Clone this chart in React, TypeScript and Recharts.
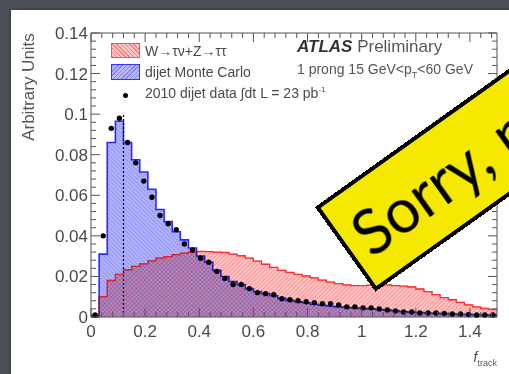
import React from 'react';
import {
  ComposedChart,
  Area,
  Line,
  Scatter,
  XAxis,
  YAxis,
  ReferenceLine
} from 'recharts';

// 50 bins of width 0.03 over f_track in [0, 1.5]
const BIN_WIDTH = 0.03;
const X_MAX = 1.5;
const Y_MAX = 0.14;
const CUT_X = 0.12;
const CUT_TOP = 0.1;

const tauSignal = [
  0, 0.01, 0.018, 0.021, 0.0233, 0.025, 0.0262, 0.0277, 0.029, 0.0298,
  0.0307, 0.0315, 0.032, 0.0323, 0.0322, 0.032, 0.0318, 0.031, 0.0302, 0.029,
  0.0275, 0.026, 0.0245, 0.023, 0.022, 0.021, 0.0202, 0.0193, 0.0182, 0.0172,
  0.0165, 0.0158, 0.0155, 0.0155, 0.0157, 0.0158, 0.0158, 0.0155, 0.0152, 0.0148,
  0.0138, 0.0125, 0.011, 0.0096, 0.0085, 0.0072, 0.006, 0.005, 0.0042, 0.0037
];

const dijetMC = [
  0.0008, 0.031, 0.086, 0.0965, 0.086, 0.0775, 0.0715, 0.063, 0.053, 0.047,
  0.042, 0.038, 0.034, 0.03, 0.027, 0.023, 0.02, 0.0175, 0.016, 0.014,
  0.0125, 0.0115, 0.0105, 0.0092, 0.0082, 0.0075, 0.007, 0.0063, 0.0058, 0.0053,
  0.005, 0.0047, 0.0044, 0.0042, 0.004, 0.0037, 0.0034, 0.003, 0.0026, 0.0024,
  0.0022, 0.002, 0.0018, 0.0016, 0.0014, 0.0013, 0.0012, 0.0011, 0.001, 0.0009
];

const dijetData = [
  0.001, 0.04, 0.093, 0.098, 0.086, 0.076, 0.067, 0.059, 0.05, 0.046,
  0.043, 0.036, 0.033, 0.029, 0.027, 0.0225, 0.019, 0.016, 0.016, 0.014,
  0.012, 0.0115, 0.011, 0.009, 0.0085, 0.008, 0.0075, 0.007, 0.0065, 0.0065,
  0.006, 0.005, 0.005, 0.0045, 0.0045, 0.004, 0.0035, 0.003, 0.0025, 0.0025,
  0.002, 0.002, 0.002, 0.0018, 0.0015, 0.0015, 0.0012, 0.001, 0.001, 0.001
];

const xTicks = [0, 0.2, 0.4, 0.6, 0.8, 1, 1.2, 1.4];
const yTicks = [0, 0.02, 0.04, 0.06, 0.08, 0.1, 0.12, 0.14];
// minor divisions (majors included)
const xAllTicks = Array.from({ length: 38 }, (_, i) => +(i * 0.04).toFixed(2));
const yAllTicks = Array.from({ length: 36 }, (_, i) => +(i * 0.004).toFixed(3));

// step rows: one per bin low edge, plus the closing edge
const histRows = tauSignal.map((w, i) => ({
  x: +(i * BIN_WIDTH).toFixed(2),
  tau: w,
  dijet: dijetMC[i]
}));
histRows.push({ x: X_MAX, tau: tauSignal[tauSignal.length - 1], dijet: dijetMC[dijetMC.length - 1] });

const dataPoints = dijetData.map((v, i) => ({
  x: +((i + 0.5) * BIN_WIDTH).toFixed(3),
  y: v
}));

const FRAME = '#555';
const LABEL = '#4a4a4a';
const FONT = '"Liberation Sans", Arial, sans-serif';
const MAJOR_LEN = 9;
const MINOR_LEN = 5;

const isMajor = (list: number[], v: number) => list.some((t) => Math.abs(t - v) < 1e-9);

const makeTick = (side: 'bottom' | 'top' | 'left' | 'right', majors: number[], showLabel: boolean) =>
  (props: any) => {
    const { x, y, payload } = props;
    const major = isMajor(majors, payload.value);
    const len = major ? MAJOR_LEN : MINOR_LEN;
    let x2 = x;
    let y2 = y;
    if (side === 'bottom') y2 = y - len;
    if (side === 'top') y2 = y + len;
    if (side === 'left') x2 = x + len;
    if (side === 'right') x2 = x - len;
    return (
      <g>
        <line x1={x} y1={y} x2={x2} y2={y2} stroke={FRAME} strokeWidth={1} />
        {showLabel && major && side === 'bottom' && (
          <text x={x} y={y + 20} textAnchor="middle" fill={LABEL} fontSize={17} fontFamily={FONT}>
            {String(payload.value)}
          </text>
        )}
        {showLabel && major && side === 'left' && (
          <text x={x - 3} y={y + 6} textAnchor="end" fill={LABEL} fontSize={17} fontFamily={FONT}>
            {String(payload.value)}
          </text>
        )}
      </g>
    );
  };

const DataDot = (props: any) => {
  const { cx, cy } = props;
  if (cx == null || cy == null) return null;
  return <circle cx={cx} cy={cy} r={2.7} fill="#000" />;
};

export default function App() {
  return (
    <div
      style={{
        position: 'fixed',
        left: 0,
        top: 0,
        width: 509,
        height: 374,
        overflow: 'hidden',
        background: '#4c4f56'
      }}
    >
      <style>{'.mc-blend { mix-blend-mode: multiply; }'}</style>
      <div
        style={{
          position: 'absolute',
          left: 11,
          top: 10,
          width: 520,
          height: 380,
          background: '#fff',
          boxShadow: '0 0 3px rgba(0,0,0,0.5)'
        }}
      />
      <div style={{ position: 'absolute', left: 0, top: 0 }}>
        <ComposedChart
          width={509}
          height={374}
          data={histRows}
          margin={{ top: 32, right: 11, bottom: 27, left: 41 }}
        >
          <defs>
            <pattern id="redHatch" patternUnits="userSpaceOnUse" width="3" height="3" patternTransform="rotate(45)">
              <rect width="3" height="3" fill="#ffc4c4" />
              <line x1="0" y1="0" x2="0" y2="3" stroke="#ff7474" strokeWidth="1.2" />
            </pattern>
            <pattern id="blueHatch" patternUnits="userSpaceOnUse" width="3" height="3" patternTransform="rotate(-45)">
              <rect width="3" height="3" fill="#b2b2fb" />
              <line x1="0" y1="0" x2="0" y2="3" stroke="#8484f4" strokeWidth="1.2" />
            </pattern>
          </defs>

          <XAxis
            dataKey="x"
            type="number"
            domain={[0, X_MAX]}
            ticks={xAllTicks}
            interval={0}
            height={30}
            tickSize={0}
            tickMargin={0}
            tickLine={false}
            stroke={FRAME}
            tick={makeTick('bottom', xTicks, true)}
          />
          <XAxis
            xAxisId="top"
            orientation="top"
            dataKey="x"
            type="number"
            domain={[0, X_MAX]}
            allowDataOverflow
            ticks={xAllTicks}
            interval={0}
            height={1}
            tickSize={0}
            tickMargin={0}
            tickLine={false}
            stroke={FRAME}
            tick={makeTick('top', xTicks, false)}
          />
          <YAxis
            type="number"
            domain={[0, Y_MAX]}
            ticks={yAllTicks}
            interval={0}
            width={50}
            tickSize={0}
            tickMargin={0}
            tickLine={false}
            stroke={FRAME}
            tick={makeTick('left', yTicks, true)}
          />
          <YAxis
            yAxisId="right"
            orientation="right"
            type="number"
            domain={[0, Y_MAX]}
            allowDataOverflow
            ticks={yAllTicks}
            interval={0}
            width={1}
            tickSize={0}
            tickMargin={0}
            tickLine={false}
            stroke={FRAME}
            tick={makeTick('right', yTicks, false)}
          />

          <Area
            type="stepAfter"
            dataKey="tau"
            fill="url(#redHatch)"
            fillOpacity={1}
            stroke="#ff3030"
            strokeWidth={1.3}
            isAnimationActive={false}
          />
          <Area
            className="mc-blend"
            type="stepAfter"
            dataKey="dijet"
            fill="url(#blueHatch)"
            fillOpacity={1}
            stroke="#2a2aff"
            strokeWidth={1.6}
            isAnimationActive={false}
          />
          <Line
            type="stepAfter"
            dataKey="tau"
            stroke="#ff3030"
            strokeWidth={1}
            strokeOpacity={0.6}
            dot={false}
            isAnimationActive={false}
          />
          <ReferenceLine
            segment={[{ x: CUT_X, y: 0 }, { x: CUT_X, y: CUT_TOP }]}
            stroke="#000"
            strokeWidth={1.2}
            strokeDasharray="2 2"
          />
          <Scatter data={dataPoints} dataKey="y" shape={<DataDot />} isAnimationActive={false} />
        </ComposedChart>
      </div>

      {/* legend */}
      <div style={{ position: 'absolute', left: 111, top: 43, width: 29, height: 15, boxSizing: 'border-box',
        border: '1px solid #ff5050',
        background: 'repeating-linear-gradient(45deg, #ff7c7c 0 1px, #ffc8c8 1px 3px)' }} />
      <div style={{ position: 'absolute', left: 111, top: 64, width: 29, height: 16, boxSizing: 'border-box',
        border: '1px solid #3030ff',
        background: 'repeating-linear-gradient(-45deg, #8484f4 0 1px, #b8b8fb 1px 3px)' }} />
      <div style={{ position: 'absolute', left: 123, top: 93, width: 5, height: 5, borderRadius: 3, background: '#000' }} />
      <div style={{ position: 'absolute', left: 145, top: 43, fontFamily: FONT, fontSize: 14, color: LABEL, whiteSpace: 'nowrap' }}>
        W→τν+Z→ττ
      </div>
      <div style={{ position: 'absolute', left: 145, top: 64, fontFamily: FONT, fontSize: 14, color: LABEL, whiteSpace: 'nowrap' }}>
        dijet Monte Carlo
      </div>
      <div style={{ position: 'absolute', left: 145, top: 85, fontFamily: FONT, fontSize: 14, color: LABEL, whiteSpace: 'nowrap' }}>
        2010 dijet data ∫dt L = 23 pb<sup style={{ fontSize: 8 }}>-1</sup>
      </div>

      <div style={{ position: 'absolute', left: 297, top: 37, fontFamily: FONT, fontSize: 17, color: '#333', whiteSpace: 'nowrap' }}>
        <b><i>ATLAS</i></b> <span style={{ color: '#555' }}>Preliminary</span>
      </div>
      <div style={{ position: 'absolute', left: 297, top: 61, fontFamily: FONT, fontSize: 14, color: '#555', whiteSpace: 'nowrap' }}>
        1 prong 15 GeV&lt;p<sub style={{ fontSize: 9 }}>T</sub>&lt;60 GeV
      </div>

      {/* axis titles */}
      <div style={{ position: 'absolute', left: 29, top: 87, transform: 'translate(-50%, -50%) rotate(-90deg)',
        fontFamily: FONT, fontSize: 17, color: '#555', whiteSpace: 'nowrap' }}>
        Arbitrary Units
      </div>
      <div style={{ position: 'absolute', right: 12, top: 348, fontFamily: FONT, fontSize: 15, color: '#555', whiteSpace: 'nowrap' }}>
        <i>f</i><sub style={{ fontSize: 9 }}>track</sub>
      </div>

      {/* overlay sticker */}
      <div
        style={{
          position: 'absolute',
          left: 315,
          top: 207,
          width: 420,
          height: 104,
          boxSizing: 'border-box',
          background: '#f6e900',
          border: '4px solid #000',
          transform: 'rotate(-35.5deg)',
          transformOrigin: '0 0',
          fontFamily: 'Lato, "Noto Sans", sans-serif',
          fontSize: 61,
          lineHeight: '96px',
          paddingLeft: 12,
          color: '#000',
          whiteSpace: 'nowrap'
        }}
      >
        Sorry, no
      </div>
    </div>
  );
}
